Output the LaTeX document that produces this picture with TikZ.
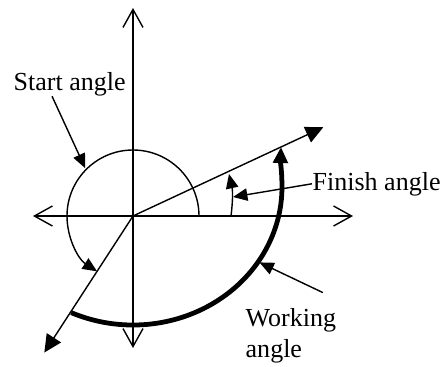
\documentclass[tikz,border=0pt]{standalone}
\usepackage{fontspec}
\setmainfont{Liberation Serif}
\usetikzlibrary{arrows.meta}

\tikzset{
  lbl/.style={font=\fontsize{18.5}{22}\selectfont, inner sep=0pt},
  axis/.style={{Straight Barb[length=0.45cm,width=0.5cm]}-{Straight Barb[length=0.45cm,width=0.5cm]}},
  ray/.style={-{Triangle[length=0.44cm,width=0.42cm]}},
  pointer/.style={-{Triangle[length=0.36cm,width=0.31cm]}},
}

\begin{document}
\begin{tikzpicture}[line width=1pt]
	\useasboundingbox (-3.325,-3.775) rectangle (7.75,5.4);
	
	% Ejes
	\coordinate (O) at (0,0);
	\draw[axis] (-2.5,0) -- (5.5,0);
	\draw[axis] (0,-3.3) -- (0,5.2);
	
	% Rayos
	\coordinate (F) at (25:5.25);
	\coordinate (S) at (237:4.07);
	\draw[ray] (O) -- (F);
	\draw[ray] (O) -- (S);
	
	% Arcos
	\draw[pointer] (1.65,0) arc[start angle=0,end angle=237,radius=1.65];
	\draw[pointer] (2.45,0) to[bend right=10] (2.4,1.05);
	\draw[line width=3.4pt,-{Triangle[length=0.4cm,width=0.36cm]}] (-1.545,-2.415) arc[start angle=245.5,end angle=360,x radius=3.725,y radius=3.45] to[out=90,in=-92] (3.7,1.725);
	
	% Etiquetas
	\node[lbl, anchor=base west] (start) at (-3.0,3.15) {Start angle};
	\node[lbl, anchor=base west] (finish) at (4.475,0.65) {Finish angle};
	\node[lbl, anchor=north west, align=left] (work) at (2.8,-2.29) {Working\\angle};
	
	\draw[pointer] ([xshift=-0.44cm]start.south) -- (135:1.69);
	\draw[pointer] (finish.west) -- (2.5,0.475);
	\draw[pointer] ([xshift=0.8cm,yshift=0.375cm]work.north) -- (3.16,-1.16);
	
\end{tikzpicture}
\end{document}
